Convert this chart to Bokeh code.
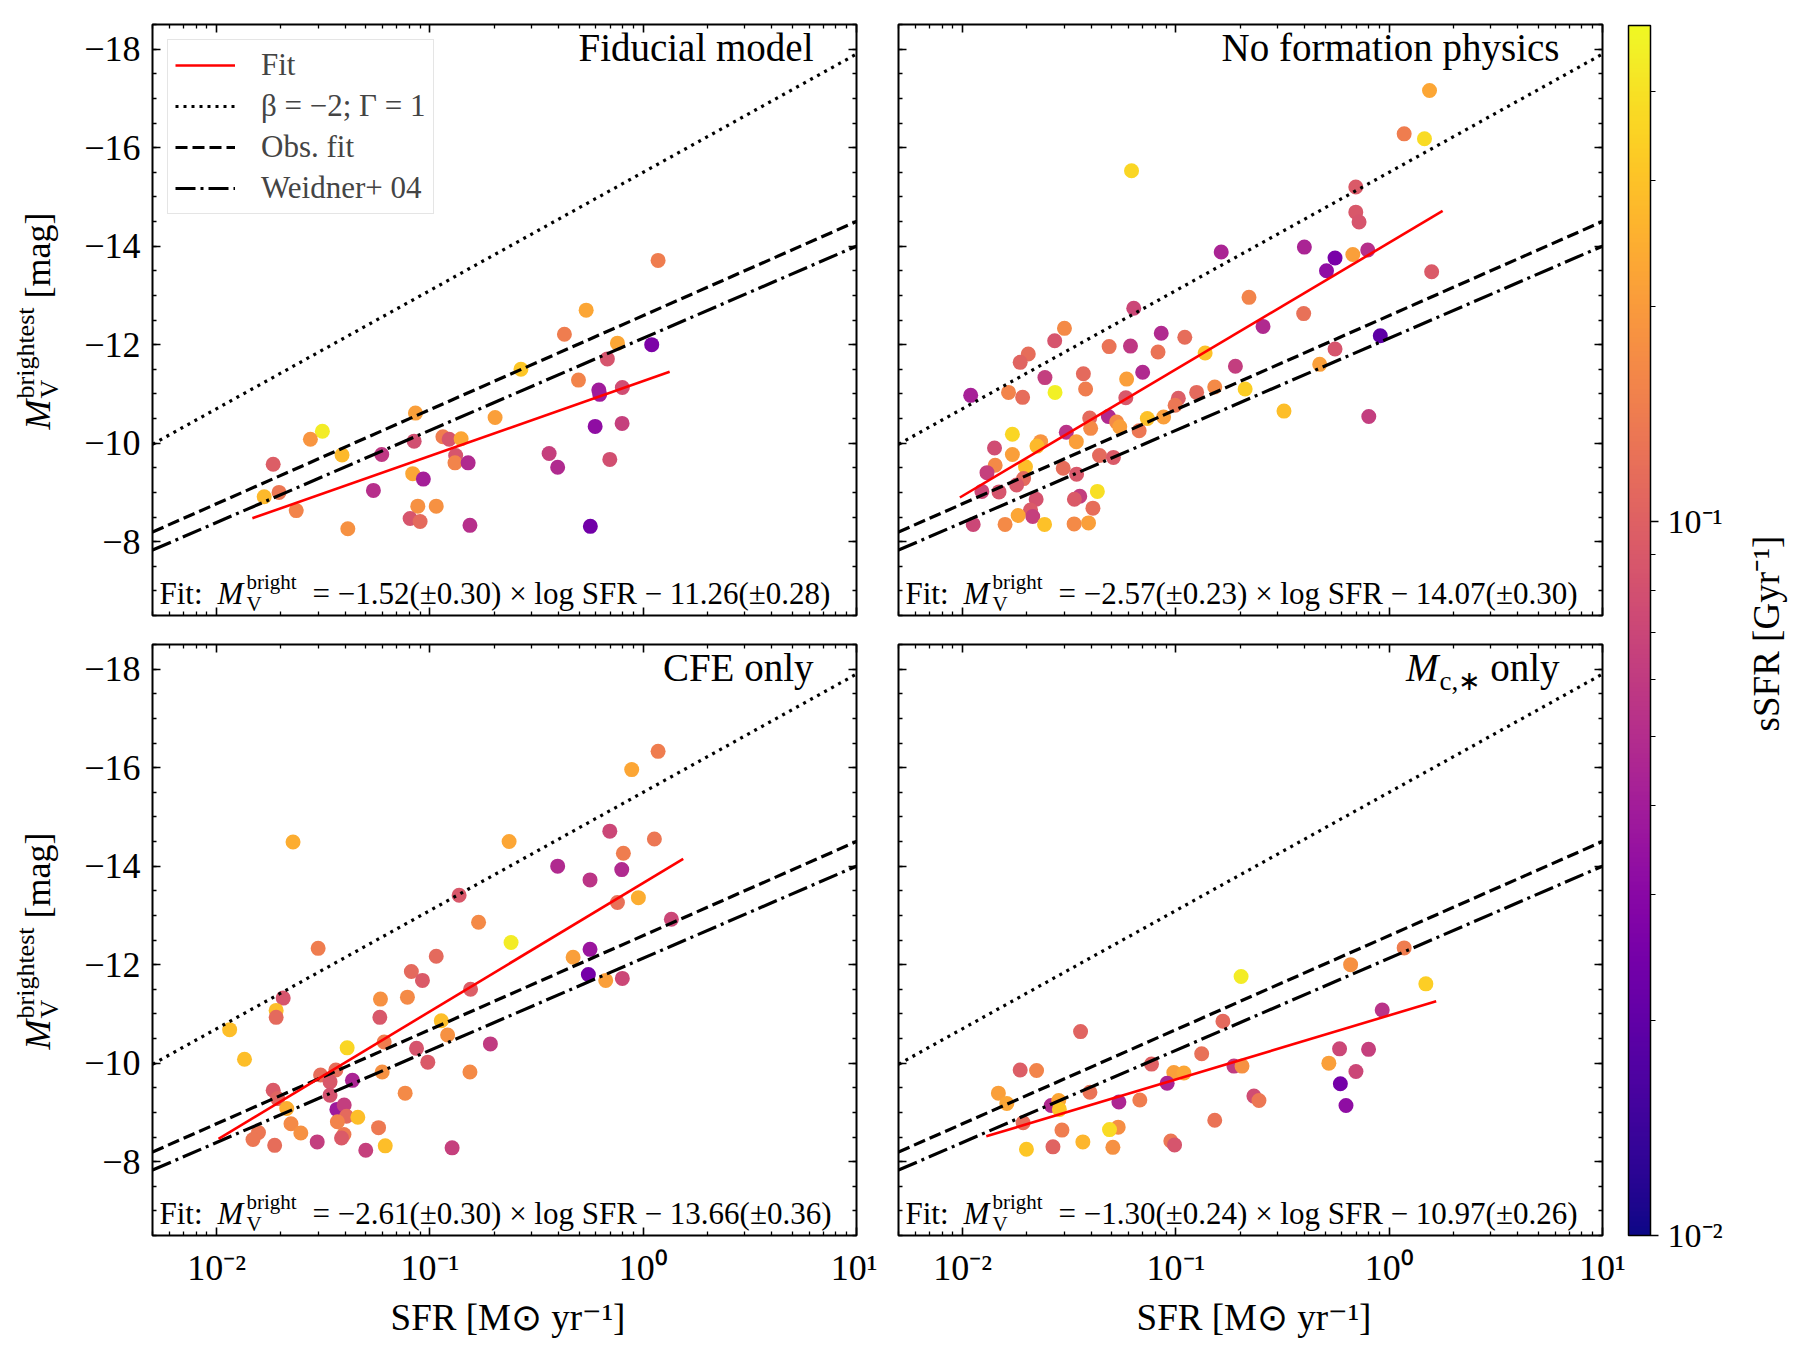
import math
from bokeh.plotting import figure
from bokeh.layouts import row, column
from bokeh.models import (ColumnDataSource, Range1d, FixedTicker, LogAxis, LinearAxis,
                          Label, Legend, LegendItem, LogColorMapper, ColorBar)
from bokeh.palettes import Plasma256
from bokeh.embed import file_html
from bokeh.resources import INLINE

FONT = "Liberation Serif"

# ---------------------------------------------------------------- data
# Fiducial model
sfr_fid = [1.174, 0.540, 0.427, 0.757, 1.096, 0.679, 0.267, 0.497, 0.619, 0.625,
           0.798, 0.0855, 0.202, 0.0313, 0.0275, 0.595, 0.796, 0.0843, 0.115, 0.123,
           0.140, 0.0387, 0.0594, 0.132, 0.131, 0.151, 0.362, 0.397, 0.697, 0.0184,
           0.0830, 0.0931, 0.0543, 0.0167, 0.0196, 0.0236, 0.0877, 0.107, 0.0807, 0.0899,
           0.0412, 0.154, 0.565]
mv_fid = [-13.71, -12.70, -12.21, -12.03, -12.00, -11.71, -11.50, -11.28, -11.08, -10.99,
          -11.13, -10.61, -10.52, -10.24, -10.08, -10.34, -10.40, -10.04, -10.13, -10.08,
          -10.09, -9.76, -9.77, -9.75, -9.60, -9.60, -9.79, -9.51, -9.67, -9.57,
          -9.38, -9.27, -9.04, -8.91, -9.00, -8.63, -8.72, -8.72, -8.47, -8.41,
          -8.26, -8.33, -8.31]
ssfr_fid = [0.142, 0.227, 0.142, 0.227, 0.0265, 0.0855, 0.310, 0.154, 0.0392, 0.0392,
            0.0761, 0.210, 0.210, 0.441, 0.187, 0.0323, 0.0651, 0.0791, 0.142, 0.0855,
            0.227, 0.276, 0.0579, 0.0855, 0.154, 0.0476, 0.0651, 0.0476, 0.0791, 0.0961,
            0.227, 0.0408, 0.0515, 0.276, 0.132, 0.154, 0.180, 0.180, 0.0855, 0.112,
            0.180, 0.0515, 0.0236]

# No formation physics
sfr_nofp = [1.545, 1.175, 1.463, 0.0619, 0.697, 0.697, 0.722, 0.163, 0.400, 0.557,
            0.675, 0.793, 0.508, 1.581, 0.220, 0.397, 0.0634, 0.0300, 0.0270, 0.0203,
            0.0186, 0.0853, 0.110, 0.0486, 0.0612, 0.0824, 0.256, 0.137, 0.0243, 0.0368,
            0.0698, 0.190, 0.557, 0.908, 0.0109, 0.0164, 0.0191, 0.0271, 0.0377, 0.0587,
            0.0582, 0.211, 0.152, 0.125, 0.1026, 0.0991, 0.472, 0.321, 0.802, 0.0482,
            0.0734, 0.0875, 0.0394, 0.0398, 0.0527, 0.0545, 0.0672, 0.0306, 0.0341, 0.0232,
            0.0223, 0.0171, 0.0141, 0.0171, 0.0142, 0.0197, 0.0130, 0.0193, 0.0179, 0.0123,
            0.0148, 0.0296, 0.0342, 0.0438, 0.0509, 0.0221, 0.0354, 0.0334, 0.0428, 0.0408,
            0.0208, 0.0213, 0.0182, 0.0112, 0.0158, 0.0242, 0.0333, 0.0389]
mv_nofp = [-17.16, -16.28, -16.18, -15.53, -15.20, -14.69, -14.49, -13.88, -13.98, -13.76,
           -13.83, -13.92, -13.50, -13.48, -12.96, -12.63, -12.74, -12.33, -12.08, -11.81,
           -11.64, -12.23, -12.15, -11.96, -11.97, -11.85, -12.37, -11.83, -11.33, -11.41,
           -11.44, -11.56, -11.91, -12.18, -10.97, -11.03, -10.93, -11.03, -11.10, -11.30,
           -10.92, -11.10, -11.14, -11.03, -10.91, -10.77, -11.60, -10.65, -10.54, -10.54,
           -10.50, -10.53, -10.51, -10.30, -10.43, -10.33, -10.25, -10.22, -10.03, -10.03,
           -9.94, -10.18, -9.90, -9.77, -9.55, -9.52, -9.40, -9.28, -9.15, -9.02,
           -9.01, -9.49, -9.37, -9.75, -9.71, -8.86, -8.92, -8.86, -9.02, -8.68,
           -8.64, -8.51, -8.53, -8.35, -8.35, -8.35, -8.36, -8.38]
ssfr_nofp = [0.227, 0.142, 0.377, 0.362, 0.0924, 0.0889, 0.0855, 0.0441, 0.0441, 0.0255,
             0.210, 0.0515, 0.0323, 0.0924, 0.154, 0.122, 0.0704, 0.166, 0.0855, 0.117,
             0.104, 0.0476, 0.117, 0.126, 0.0579, 0.126, 0.0476, 0.298, 0.0626, 0.112,
             0.0476, 0.0626, 0.0855, 0.0194, 0.0424, 0.154, 0.117, 0.458, 0.142, 0.210,
             0.0889, 0.335, 0.166, 0.112, 0.0961, 0.132, 0.210, 0.287, 0.0626, 0.0476,
             0.298, 0.210, 0.112, 0.166, 0.166, 0.210, 0.132, 0.0536, 0.210, 0.187,
             0.276, 0.362, 0.0761, 0.210, 0.166, 0.287, 0.0651, 0.112, 0.0889, 0.0704,
             0.0855, 0.117, 0.0889, 0.112, 0.0924, 0.0822, 0.0626, 0.0924, 0.392, 0.117,
             0.0924, 0.0651, 0.227, 0.0704, 0.166, 0.298, 0.166, 0.210]

# CFE only
sfr_cfe = [1.174, 0.883, 0.0228, 0.235, 0.697, 1.128, 0.807, 0.397, 0.563, 0.793,
           0.137, 0.757, 0.949, 0.169, 0.0299, 0.240, 0.107, 1.355, 0.563, 0.469,
           0.0818, 0.0922, 0.553, 0.667, 0.798, 0.155, 0.0205, 0.0586, 0.0784, 0.0190,
           0.0190, 0.0582, 0.0115, 0.113, 0.121, 0.0610, 0.192, 0.0135, 0.0409, 0.0865,
           0.0977, 0.0597, 0.154, 0.0307, 0.0362, 0.0340, 0.0433, 0.0340, 0.0184, 0.0193,
           0.0765, 0.0213, 0.0366, 0.0396, 0.0406, 0.0459, 0.0368, 0.0223, 0.0248, 0.0157,
           0.0148, 0.0395, 0.0385, 0.0574, 0.0296, 0.0187, 0.0617, 0.0500, 0.127]
mv_cfe = [-16.33, -15.96, -14.49, -14.50, -14.71, -14.55, -14.26, -14.00, -13.72, -13.93,
          -13.41, -13.26, -13.36, -12.86, -12.33, -12.45, -12.17, -12.92, -12.31, -12.15,
          -11.86, -11.68, -11.80, -11.68, -11.72, -11.50, -11.32, -11.30, -11.34, -11.07,
          -10.93, -10.93, -10.68, -10.86, -10.57, -10.43, -10.39, -10.08, -10.31, -10.30,
          -10.02, -9.82, -9.82, -9.76, -9.86, -9.62, -9.65, -9.35, -9.45, -9.28,
          -9.39, -9.08, -9.06, -9.15, -8.92, -8.90, -8.81, -8.77, -8.58, -8.59,
          -8.45, -8.55, -8.48, -8.69, -8.40, -8.33, -8.32, -8.23, -8.28]
ssfr_cfe = [0.142, 0.227, 0.245, 0.227, 0.0704, 0.132, 0.142, 0.0476, 0.0557, 0.0476,
            0.0889, 0.122, 0.245, 0.166, 0.142, 0.441, 0.112, 0.0704, 0.0362, 0.210,
            0.112, 0.0924, 0.0245, 0.210, 0.0704, 0.0961, 0.0855, 0.180, 0.166, 0.287,
            0.112, 0.0889, 0.287, 0.287, 0.180, 0.142, 0.0602, 0.287, 0.362, 0.0855,
            0.0924, 0.180, 0.166, 0.117, 0.117, 0.0889, 0.0441, 0.0822, 0.0924, 0.104,
            0.166, 0.245, 0.0377, 0.0626, 0.112, 0.287, 0.154, 0.166, 0.180, 0.132,
            0.132, 0.137, 0.0924, 0.137, 0.0626, 0.117, 0.287, 0.0651, 0.0651]

# M_c,* only
sfr_mc = [1.175, 0.659, 0.202, 1.485, 0.927, 0.166, 0.0357, 0.132, 0.585, 0.800,
          0.0186, 0.0222, 0.0768, 0.521, 0.698, 0.187, 0.204, 0.0977, 0.109, 0.0909,
          0.590, 0.0147, 0.0161, 0.0395, 0.0260, 0.0282, 0.0284, 0.0540, 0.0677, 0.232,
          0.245, 0.627, 0.0192, 0.152, 0.0292, 0.0536, 0.0488, 0.0199, 0.0265, 0.0366,
          0.0506, 0.0946, 0.0985]
mv_mc = [-12.34, -12.00, -11.76, -11.61, -11.08, -10.85, -10.64, -10.19, -10.29, -10.28,
         -9.86, -9.85, -9.98, -10.00, -9.83, -9.94, -9.94, -9.81, -9.80, -9.59,
         -9.58, -9.39, -9.18, -9.41, -9.14, -9.24, -9.06, -9.21, -9.25, -9.33,
         -9.24, -9.14, -8.79, -8.84, -8.64, -8.70, -8.65, -8.25, -8.30, -8.40,
         -8.29, -8.42, -8.34]
ssfr_mc = [0.142, 0.180, 0.441, 0.335, 0.0536, 0.112, 0.104, 0.122, 0.0704, 0.0651,
           0.0961, 0.154, 0.100, 0.210, 0.0704, 0.0602, 0.180, 0.210, 0.227, 0.0441,
           0.0245, 0.210, 0.227, 0.126, 0.0476, 0.227, 0.310, 0.0458, 0.142, 0.0761,
           0.132, 0.0323, 0.117, 0.126, 0.142, 0.173, 0.377, 0.310, 0.104, 0.265,
           0.180, 0.132, 0.0855]

# linear fits M = a * log SFR + b, and the SFR span each fit line covers
fit_slope = [-1.52, -2.57, -2.61, -1.30]
fit_slope_err = [0.30, 0.23, 0.30, 0.24]
fit_icpt = [-11.26, -14.07, -13.66, -10.97]
fit_icpt_err = [0.28, 0.30, 0.36, 0.26]
fit_sfr_lo = [0.0147, 0.0097, 0.0102, 0.0129]
fit_sfr_hi = [1.33, 1.78, 1.54, 1.66]

# reference relations: (slope, intercept)
rel_beta2 = (-2.40, -15.50)   # beta = -2; Gamma = 1
rel_obs = (-1.91, -12.59)     # observational fit
rel_weidner = (-1.87, -12.13)  # Weidner+ 04

# axes
sfr_limits = (5e-3, 10.0)
mv_limits = (-6.5, -18.5)
x_major = [0.01, 0.1, 1.0, 10.0]
x_major_text = ["10⁻²", "10⁻¹", "10⁰", "10¹"]
y_major = [-18, -16, -14, -12, -10, -8]
y_major_text = ["−18", "−16", "−14", "−12", "−10", "−8"]
ssfr_limits = (0.01, 0.495)
cb_major = [0.01, 0.1]
cb_major_text = ["10⁻²", "10⁻¹"]

titles = ["Fiducial model", "No formation physics", "CFE only", None]

# ---------------------------------------------------------------- helpers
FRAME_W, FRAME_H = 704, 591
MID = 0.34  # text box centre above the baseline, in em


def log_minors(lo_exp, hi_exp):
    out = []
    for e in range(lo_exp, hi_exp + 1):
        for m in range(2, 10):
            out.append(m * 10.0 ** e)
    return out


x_ticker = FixedTicker(ticks=x_major, minor_ticks=log_minors(-3, 0))
y_minor = [-18.5 + 0.5 * k for k in range(25)]
y_ticker = FixedTicker(ticks=y_major, minor_ticks=y_minor)

mapper = LogColorMapper(palette=Plasma256, low=ssfr_limits[0], high=ssfr_limits[1])


def style_axis(ax, ticker, labels=None):
    ax.ticker = ticker
    ax.axis_line_color = None
    ax.major_tick_in = 8
    ax.major_tick_out = 0
    ax.minor_tick_in = 4
    ax.minor_tick_out = 0
    ax.major_tick_line_color = "black"
    ax.minor_tick_line_color = "black"
    ax.major_tick_line_width = 1.6
    ax.minor_tick_line_width = 1.3
    if labels:
        ax.major_label_overrides = labels
        ax.major_label_text_font = FONT
        ax.major_label_text_font_size = "36px"
        ax.major_label_text_color = "black"
        ax.major_label_standoff = 12
    else:
        ax.major_label_text_font_size = "1px"
        ax.major_label_text_color = None
        ax.major_label_standoff = 0


def add_text(p, x, y, text, size, style="normal", angle=0.0, align="left"):
    """Place text by its baseline (x, y in screen px from the frame's bottom-left)."""
    if angle:
        x = x - MID * size
    else:
        y = y + MID * size
    p.add_layout(Label(x=x, y=y, x_units="screen", y_units="screen", text=text,
                       text_font=FONT, text_font_size=f"{size}px", text_font_style=style,
                       text_color="black", angle=angle, text_align=align,
                       text_baseline="middle"))


def line_through(slope, icpt, x_lo, x_hi):
    xs = [x_lo, x_hi]
    return xs, [slope * math.log10(v) + icpt for v in xs]


def blank_figure(width, height):
    f = figure(width=width, height=height, toolbar_location=None, output_backend="svg",
               x_range=Range1d(0, 1), y_range=Range1d(0, 1), min_border=0,
               x_axis_location=None, y_axis_location=None, outline_line_color=None,
               background_fill_color="white", border_fill_color="white")
    f.grid.visible = False
    return f


def make_panel(idx, sfr, mv, ssfr, left_col, bottom_row):
    p = figure(x_axis_type="log", x_range=Range1d(*sfr_limits), y_range=Range1d(*mv_limits),
               frame_width=FRAME_W, frame_height=FRAME_H, toolbar_location=None,
               output_backend="svg",
               min_border_left=80 if left_col else 21,
               min_border_right=21 if left_col else 25,
               min_border_top=24 if not bottom_row else 14,
               min_border_bottom=115 if bottom_row else 15,
               background_fill_color="white", border_fill_color="white")
    p.grid.visible = False
    p.outline_line_color = "black"
    p.outline_line_width = 2

    p.add_layout(LogAxis(), "above")
    p.add_layout(LinearAxis(), "right")
    xlab = dict(zip(x_major, x_major_text))
    ylab = dict(zip(y_major, y_major_text))
    style_axis(p.below[0], x_ticker, xlab if bottom_row else None)
    style_axis(p.above[0], x_ticker)
    style_axis(p.left[0], y_ticker, ylab if left_col else None)
    style_axis(p.right[0], y_ticker)

    if bottom_row:
        ax = p.below[0]
        ax.axis_label = "SFR [M⊙ yr⁻¹]"
        ax.axis_label_text_font = FONT
        ax.axis_label_text_font_size = "37px"
        ax.axis_label_text_font_style = "normal"
        ax.axis_label_text_color = "black"
        ax.axis_label_standoff = 6

    src = ColumnDataSource(dict(sfr=sfr, mv=mv, ssfr=ssfr))
    p.scatter(x="sfr", y="mv", source=src, marker="circle", size=15,
              fill_color={"field": "ssfr", "transform": mapper}, line_color=None)

    xs, ys = line_through(*rel_beta2, *sfr_limits)
    r_dot = p.line(xs, ys, line_color="black", line_width=3.2, line_dash="3 5")
    xs, ys = line_through(*rel_obs, *sfr_limits)
    r_dash = p.line(xs, ys, line_color="black", line_width=3.2, line_dash="12 5")
    xs, ys = line_through(*rel_weidner, *sfr_limits)
    r_dd = p.line(xs, ys, line_color="black", line_width=3.2, line_dash="20 5 3 5")
    xs, ys = line_through(fit_slope[idx], fit_icpt[idx], fit_sfr_lo[idx], fit_sfr_hi[idx])
    r_fit = p.line(xs, ys, line_color="red", line_width=2.6)

    if idx == 0:
        legend = Legend(items=[LegendItem(label="Fit", renderers=[r_fit]),
                               LegendItem(label="β = −2; Γ = 1", renderers=[r_dot]),
                               LegendItem(label="Obs. fit", renderers=[r_dash]),
                               LegendItem(label="Weidner+ 04", renderers=[r_dd])],
                        location="top_left", margin=15, padding=7, spacing=5,
                        glyph_width=60, glyph_height=30, label_height=30,
                        label_standoff=26, label_text_font=FONT,
                        label_text_font_size="31px", border_line_color="#cccccc",
                        border_line_width=1.5, background_fill_alpha=0.8)
        p.add_layout(legend)

    # panel title (top right), placed by baseline
    if titles[idx] is not None:
        add_text(p, 661, 555, titles[idx], 39, align="right")
    else:
        add_text(p, 661, 555, "only", 39, align="right")
        add_text(p, 541, 545, "c,∗", 27)
        add_text(p, 540, 555, "M", 39, style="italic", align="right")

    # fit relation at the bottom of the panel
    a, ae, b, be = fit_slope[idx], fit_slope_err[idx], fit_icpt[idx], fit_icpt_err[idx]
    sa = "−" if a < 0 else ""
    sb = "−" if b < 0 else "+"
    rest = f"= {sa}{abs(a):.2f}(±{ae:.2f}) × log SFR {sb} {abs(b):.2f}(±{be:.2f})"
    add_text(p, 7, 11, "Fit:", 31)
    add_text(p, 65, 11, "M", 31, style="italic")
    add_text(p, 94, 4, "V", 21)
    add_text(p, 94, 26, "bright", 21)
    add_text(p, 160, 11, rest, 31)
    return p


def ylabel_column(height):
    """Vertical axis title M_V^brightest [mag], reading bottom to top.

    The strip's frame lines up with the neighbouring panel frame, so y is
    measured from the panel's lower edge.
    """
    f = blank_figure(72, height)
    ang = math.pi / 2
    y0 = 186
    add_text(f, 50, y0, "M", 36, style="italic", angle=ang)
    add_text(f, 34, y0 + 31, "brightest", 26, angle=ang)
    add_text(f, 58, y0 + 31, "V", 26, angle=ang)
    add_text(f, 50, y0 + 31 + 91 + 9, "[mag]", 36, angle=ang)
    return f


p_tl = make_panel(0, sfr_fid, mv_fid, ssfr_fid, True, False)
p_tr = make_panel(1, sfr_nofp, mv_nofp, ssfr_nofp, False, False)
p_bl = make_panel(2, sfr_cfe, mv_cfe, ssfr_cfe, True, True)
p_br = make_panel(3, sfr_mc, mv_mc, ssfr_mc, False, True)

yl_top = ylabel_column(24 + FRAME_H + 15)
yl_bot = ylabel_column(14 + FRAME_H + 115)

# colour bar column
cb_fig = blank_figure(173, 1350)
color_bar = ColorBar(color_mapper=mapper, location=(1, 115), width=22, height=1210,
                     padding=0, margin=0,
                     ticker=FixedTicker(ticks=cb_major, minor_ticks=log_minors(-2, -1)),
                     major_label_overrides=dict(zip(cb_major, cb_major_text)),
                     bar_line_color="black", bar_line_width=1.5,
                     major_tick_in=0, major_tick_out=8, minor_tick_in=0, minor_tick_out=5,
                     major_tick_line_color="black", minor_tick_line_color="black",
                     major_tick_line_width=1.5, minor_tick_line_width=1.2,
                     label_standoff=9, major_label_text_font=FONT,
                     major_label_text_font_size="34px", major_label_text_color="black",
                     background_fill_color=None, border_line_color=None)
cb_fig.add_layout(color_bar, "center")
add_text(cb_fig, 152, 717, "sSFR [Gyr⁻¹]", 37, angle=math.pi / 2, align="center")

layout = row(column(row(yl_top, p_tl, p_tr), row(yl_bot, p_bl, p_br)), cb_fig)

with open("out.html", "w") as fh:
    fh.write(file_html(layout, INLINE))
